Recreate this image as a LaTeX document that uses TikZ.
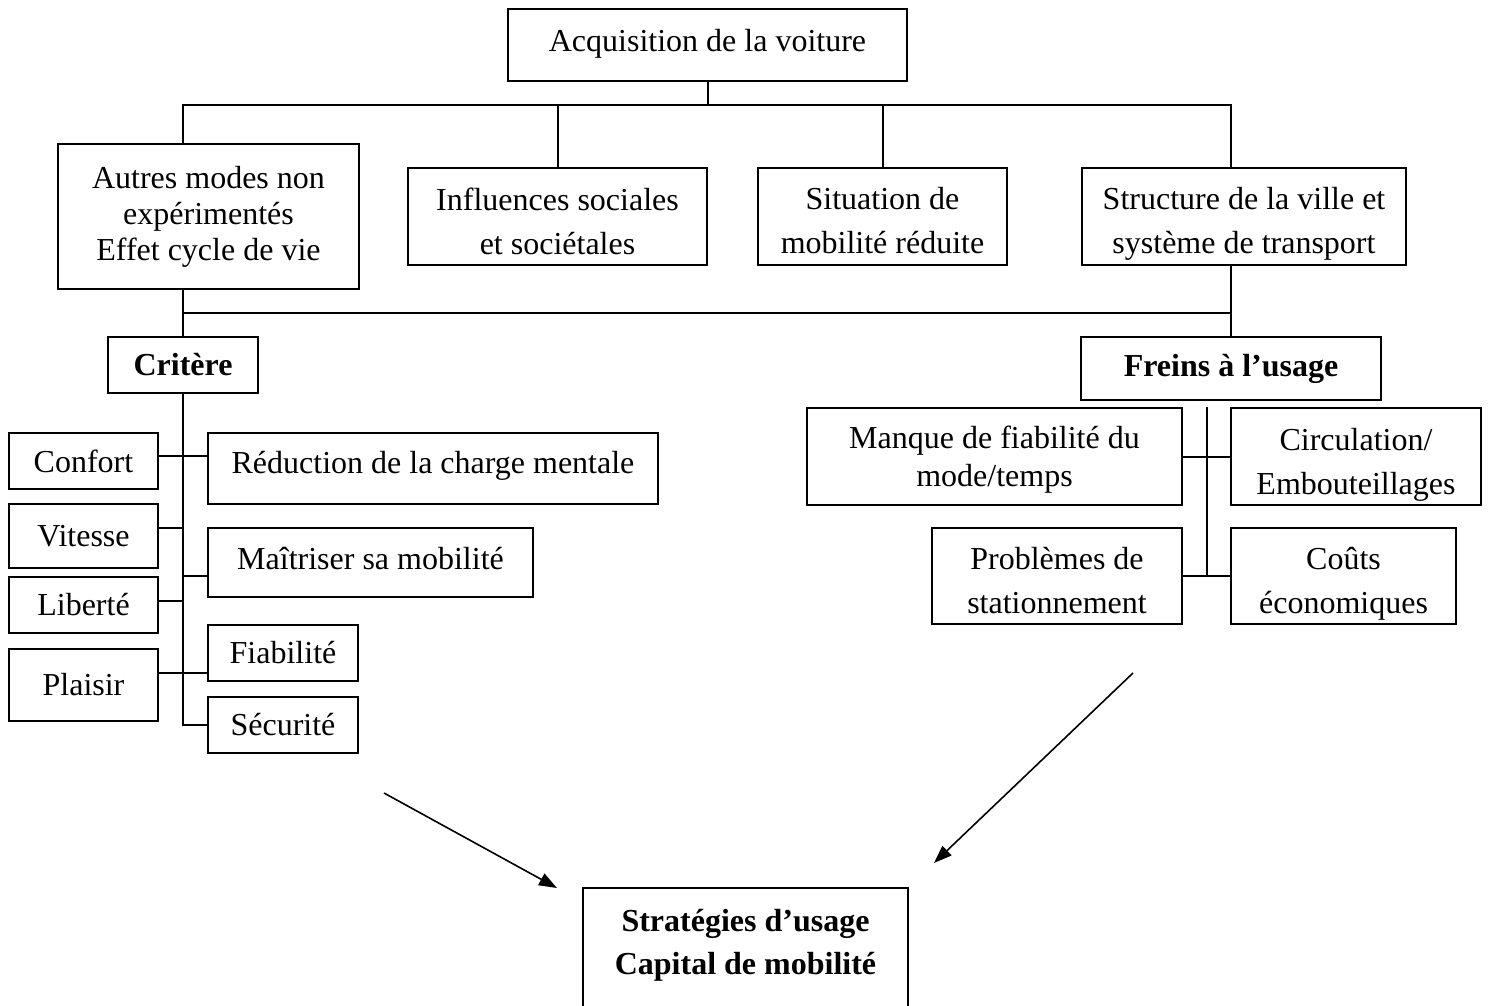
\documentclass[tikz,border=0pt]{standalone}
\usepackage{fontspec}
\setmainfont{Liberation Serif}
\usetikzlibrary{arrows.meta,calc}

\begin{document}
\begin{tikzpicture}%
  [x=0.5pt,y=-0.5pt,line width=1pt,font=\fontsize{16}{22}\selectfont]
  \tikzstyle{box node}=[rectangle,draw,inner sep=2pt,align=center]
  \tikzstyle{head node}=[box node,font=\fontsize{16}{21.5}\selectfont\bfseries]
  \tikzstyle{to strat}=[line width=0.8pt,-{Triangle[length=9pt,width=6.5pt]}]
  \useasboundingbox (0,0) rectangle (1488,1006);
  \clip (0,0) rectangle (1488,1006);
  % top level
  \node(acq)[box node,minimum width=199.5pt,minimum height=36pt,text depth=5pt] at (707.5,45) {Acquisition de la voiture};
  \node(autres)[box node,minimum width=150.5pt,minimum height=72.5pt,font=\fontsize{16}{18}\selectfont] at (208.5,216.5) {Autres modes non\\expérimentés\\Effet cycle de vie};
  \node(infl)[box node,minimum width=149.5pt,minimum height=48.5pt] at (557.5,216.5) {\rule{0pt}{16pt}Influences sociales\\et sociétales};
  \node(situ)[box node,minimum width=124.5pt,minimum height=48.5pt] at (882.5,216.5) {\rule{0pt}{15.5pt}Situation de\\mobilité réduite};
  \node(struct)[box node,minimum width=162pt,minimum height=48.5pt] at (1244,216.5) {\rule{0pt}{18.5pt}Structure de la ville et\\système de transport};
  \node(crit)[head node,minimum width=75pt,minimum height=28pt] at (183,365) {Critère};
  \node(freins)[head node,minimum width=150pt,minimum height=31.5pt] at (1231,368.5) {Freins à l’usage};
  % criteria
  \node(confort)[box node,minimum width=74.5pt,minimum height=28pt] at (83.5,461) {Confort};
  \node(vitesse)[box node,minimum width=74.5pt,minimum height=32pt] at (83.5,536) {Vitesse};
  \node(liberte)[box node,minimum width=74.5pt,minimum height=28pt] at (83.5,605) {Liberté};
  \node(plaisir)[box node,minimum width=74.5pt,minimum height=36pt] at (83.5,685) {Plaisir};
  \node(reduc)[box node,minimum width=225pt,minimum height=35.5pt,text depth=6pt] at (433,468.5) {Réduction de la charge mentale};
  \node(maitr)[box node,minimum width=162.5pt,minimum height=34.5pt,text depth=4pt] at (370.5,562.5) {Maîtriser sa mobilité};
  \node(fiab)[box node,minimum width=75pt,minimum height=28pt] at (283,653) {Fiabilité};
  \node(secu)[box node,minimum width=75pt,minimum height=28pt] at (283,725) {Sécurité};
  % brakes
  \node(manque)[box node,minimum width=187.5pt,minimum height=48.5pt,font=\fontsize{16}{19}\selectfont] at (994.5,456.5) {\rule{0pt}{14.5pt}Manque de fiabilité du\\mode/temps};
  \node(circ)[box node,minimum width=125pt,minimum height=48.5pt] at (1356,456.5) {\rule{0pt}{19pt}Circulation/\\Embouteillages};
  \node(probl)[box node,minimum width=125pt,minimum height=48pt] at (1057,576) {\rule{0pt}{16pt}Problèmes de\\stationnement};
  \node(couts)[box node,minimum width=112.5pt,minimum height=48pt] at (1343.5,576) {\rule{0pt}{19pt}Coûts\\économiques};
  \node(strat)[head node,minimum width=162.5pt,minimum height=75pt] at (745.5,963) {Stratégies d’usage\\Capital de mobilité\\~};
  % tree lines
  \coordinate(top bus) at (0,105);
  \coordinate(mid bus) at (0,313);
  \draw (acq.south) -- (acq.south |- top bus);
  \draw (crit.north |- autres.north) -- (crit.north |- top bus) -| (freins.north |- struct.north);
  \draw (infl.north) -- (infl.north |- top bus);
  \draw (situ.north) -- (situ.north |- top bus);
  \draw (crit.north |- autres.south) -- (crit.north);
  \draw (freins.north |- struct.south) -- (freins.north);
  \draw (crit.north |- mid bus) -- (freins.north |- mid bus);
  \draw (crit.south) |- (secu.west);
  \draw ([yshift=2.5pt]confort.east) -- ([yshift=2.5pt]confort.east -| reduc.west);
  \draw ([yshift=4pt]vitesse.east) -- ([yshift=4pt]vitesse.east -| crit.south);
  \draw ([yshift=-6.5pt]maitr.west) -- ([yshift=-6.5pt]maitr.west -| crit.south);
  \draw ([yshift=2pt]liberte.east) -- ([yshift=2pt]liberte.east -| crit.south);
  \draw ([yshift=6pt]plaisir.east) -- ([yshift=6pt]plaisir.east -| fiab.west);
  \draw (manque.east) -- (circ.west);
  \draw (probl.east) -- (couts.west);
  \draw ($(manque.north east)!.5!(circ.north west)$) -- ($(probl.east)!.5!(couts.west)$);
  % arrows
  \coordinate(left tail) at (384,793);
  \coordinate(left tip) at (557,888);
  \coordinate(right tail) at (1133,673);
  \coordinate(right tip) at (934,863);
  \draw[to strat] (left tail) -- (left tip);
  \draw[to strat] (right tail) -- (right tip);
\end{tikzpicture}
\end{document}
